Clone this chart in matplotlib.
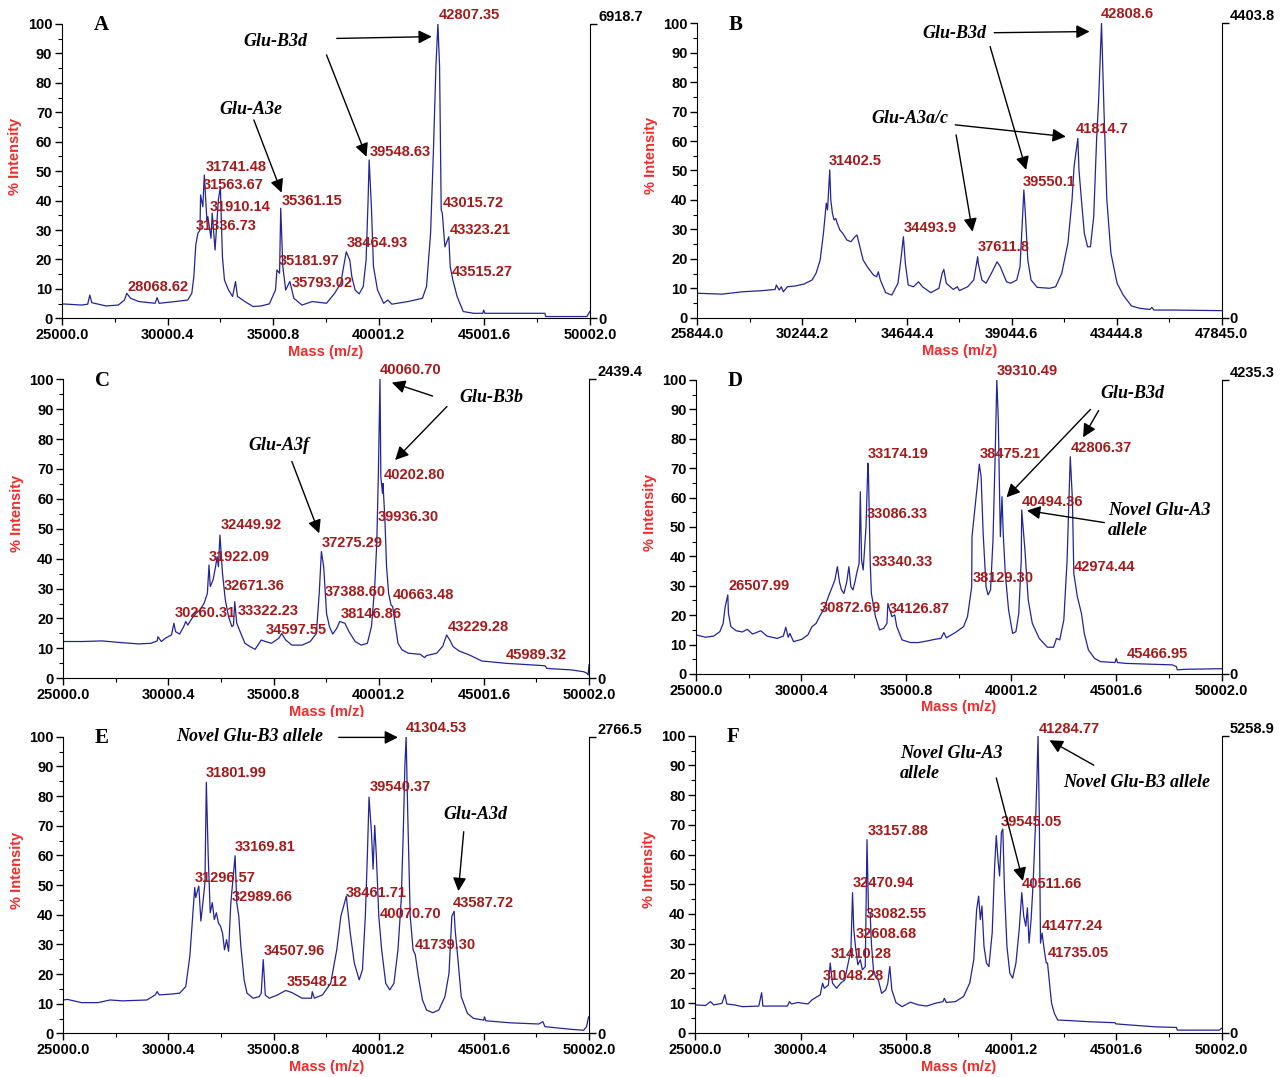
import matplotlib
matplotlib.use("Agg")
import matplotlib.pyplot as plt
from matplotlib.ticker import FixedLocator
from matplotlib.patches import Rectangle

plt.rcParams['font.family'] = ['Liberation Sans', 'DejaVu Sans']

# ---------------- panel A ----------------
a_mass = [25000, 25928, 26218, 26315, 26412, 27088, 27668, 27958, 28068, 28249, 28635, 29409, 29505, 29602,
          30375, 30955, 31149, 31246, 31337, 31439, 31536, 31564, 31671, 31741, 31864, 31910, 32058, 32116,
          32251, 32406, 32502, 32599, 32696, 32889, 33082, 33218, 33315, 33663, 34049, 34436, 34823, 35113,
          35182, 35306, 35361, 35461, 35596, 35793, 35983, 36370, 36853, 37530, 37916, 38206, 38342, 38465,
          38632, 38729, 38883, 39077, 39270, 39405, 39500, 39549, 39657, 39753, 39947, 40237, 40430, 40623,
          41397, 42074, 42267, 42460, 42596, 42712, 42807, 42886, 42963, 43016, 43137, 43323, 43389, 43515,
          43717, 44007, 44491, 44936, 44974, 45032, 47874, 47913, 49866, 50002]
a_int = [4.9, 4.5, 4.8, 7.9, 5.3, 4.2, 4.5, 6.2, 8.5, 6.8, 5.7, 5.1, 7.0, 5.1,
         5.7, 6.2, 8.5, 14.2, 24.9, 28.9, 30.0, 41.9, 37.9, 48.7, 33.4, 34.5, 27.2, 35.7,
         23.2, 40.2, 44.7, 21.0, 13.0, 9.6, 7.4, 12.5, 7.4, 5.7, 4.0, 4.2, 4.9, 9.6,
         16.4, 15.3, 37.4, 17.6, 9.6, 12.5, 6.8, 4.5, 5.7, 5.1, 8.5, 11.9, 17.6, 22.6,
         19.8, 14.2, 9.6, 8.3, 10.8, 19.8, 40.2, 53.8, 37.9, 17.6, 9.6, 5.1, 6.2, 4.8,
         5.7, 6.8, 10.8, 28.9, 57.2, 85.5, 100.0, 85.5, 36.8, 35.7, 24.3, 27.7, 17.6, 13.0,
         7.4, 2.3, 1.7, 1.7, 2.8, 1.7, 1.7, 0.6, 0.6, 2.3]
a_ticks = [25000.0, 30000.4, 35000.8, 40001.2, 45001.6, 50002.0]
a_full = '6918.7'
a_peaks = ['42807.35', '39548.63', '31741.48', '31563.67', '31910.14', '31336.73', '35361.15',
           '35181.97', '35793.02', '38464.93', '43015.72', '43323.21', '43515.27', '28068.62']
a_peak_xy = [(42847, 103.1), (39599, 56.6), (31787, 51.5), (31671, 45.3), (31980, 37.9), (31342, 31.4),
             (35403, 40.0), (35248, 19.6), (35886, 12.1), (38497, 25.7), (43040, 39.1), (43369, 30.0),
             (43466, 15.9), (28094, 10.8)]
a_notes = ['Glu-B3d', 'Glu-A3e']
a_note_xy = [(33605, 94.2), (32464, 70.8)]
a_arrows = [((38013, 95.1), (42518, 95.7)), ((37530, 89.5), (39425, 54.9)), ((34088, 67.4), (35403, 42.7))]

# ---------------- panel B ----------------
b_mass = [25844, 26875, 27735, 28594, 29110, 29161, 29282, 29367, 29453, 29625, 29969, 30313, 30657, 30829,
          31000, 31138, 31258, 31310, 31402, 31447, 31516, 31585, 31654, 31722, 31825, 31946, 32118, 32290,
          32461, 32547, 32667, 32805, 32977, 33235, 33372, 33441, 33527, 33750, 34008, 34266, 34402, 34494,
          34575, 34696, 34919, 35126, 35297, 35641, 35985, 36122, 36191, 36294, 36587, 36758, 36844, 37188,
          37446, 37612, 37635, 37790, 37962, 38219, 38426, 38563, 38821, 38993, 39251, 39388, 39474, 39550,
          39612, 39715, 39852, 40110, 40626, 40884, 41141, 41399, 41571, 41657, 41815, 41863, 41966, 42087,
          42224, 42344, 42482, 42602, 42688, 42809, 42912, 43032, 43204, 43462, 43720, 44063, 44407, 44837,
          44923, 45009, 45782, 47845]
b_int = [8.3, 8.0, 8.8, 9.2, 9.6, 11.1, 9.4, 10.5, 8.8, 10.5, 10.8, 11.4, 12.8, 15.1,
         19.6, 28.7, 38.9, 36.6, 50.2, 40.0, 35.4, 33.2, 33.7, 32.0, 29.8, 28.7, 26.4, 25.8,
         27.5, 28.1, 24.1, 19.6, 17.3, 14.5, 13.9, 15.6, 12.8, 8.5, 7.7, 11.7, 20.7, 27.5,
         18.5, 11.1, 10.5, 12.2, 10.5, 8.5, 10.0, 15.1, 16.4, 11.7, 9.6, 10.5, 9.2, 10.5,
         12.8, 20.7, 18.5, 12.8, 11.7, 15.6, 19.0, 17.3, 12.2, 11.7, 12.8, 17.3, 30.9, 43.4,
         35.4, 19.6, 12.8, 10.3, 10.0, 10.5, 15.1, 25.3, 40.0, 51.3, 60.9, 50.2, 40.0, 28.7,
         24.1, 24.1, 34.3, 60.4, 74.0, 100.0, 70.6, 40.0, 21.9, 11.7, 7.7, 4.0, 3.2, 2.8,
         3.5, 2.6, 2.6, 2.4]
b_ticks = [25844.0, 30244.2, 34644.4, 39044.6, 43444.8, 47845.0]
b_full = '4403.8'
b_peaks = ['42808.6', '41814.7', '39550.1', '37611.8', '34493.9', '31402.5']
b_peak_xy = [(42774, 103.1), (41743, 64.0), (39508, 46.2), (37618, 23.9), (34489, 30.4), (31378, 53.3)]
b_notes = ['Glu-B3d', 'Glu-A3a/c']
b_note_xy = [(35297, 96.6), (33149, 67.7)]
b_arrows = [((38305, 96.8), (42310, 97.2)), ((38133, 92.1), (39646, 50.2)),
            ((36672, 65.5), (41313, 61.5)), ((36706, 62.1), (37394, 29.2))]

# ---------------- panel C ----------------
c_mass = [25000, 25874, 26844, 27815, 28591, 29173, 29465, 29500, 29659, 29853, 30144, 30260, 30338, 30532,
          30726, 30823, 30920, 31114, 31309, 31503, 31697, 31852, 31930, 31988, 32124, 32240, 32318, 32376,
          32450, 32570, 32706, 32861, 33017, 33094, 33153, 33250, 33444, 33638, 33929, 34123, 34414, 34608,
          34900, 35249, 35385, 35579, 35870, 36355, 36744, 37035, 37171, 37275, 37384, 37520, 37656, 37811,
          38005, 38147, 38394, 38588, 38879, 39170, 39461, 39655, 39811, 39908, 39985, 40061, 40102, 40179,
          40203, 40296, 40374, 40471, 40587, 40663, 40781, 40917, 41111, 41402, 41985, 42179, 42276, 42761,
          43052, 43229, 43382, 43538, 43829, 44314, 44896, 46061, 47226, 47905, 48002, 49167, 49749, 49904,
          49962, 50002]
c_int = [12.3, 12.3, 12.5, 11.9, 11.5, 11.7, 12.5, 13.9, 12.3, 13.4, 14.5, 18.4, 15.6, 14.8,
         17.3, 19.0, 17.8, 20.0, 21.7, 22.9, 25.1, 28.4, 37.9, 30.7, 32.9, 37.3, 40.7, 37.3,
         47.9, 35.1, 26.2, 20.6, 17.3, 17.8, 25.6, 18.4, 15.0, 11.7, 10.4, 9.7, 12.8, 12.3,
         11.7, 13.4, 15.0, 12.8, 11.1, 11.1, 12.3, 15.0, 28.4, 42.4, 37.3, 21.7, 17.3, 14.8,
         16.7, 19.0, 18.4, 15.6, 12.3, 11.1, 11.7, 17.3, 30.7, 45.2, 68.6, 100.0, 67.4, 61.9,
         65.2, 53.0, 37.3, 28.4, 24.5, 24.0, 18.4, 11.7, 9.5, 8.4, 8.0, 6.9, 7.6, 8.4,
         10.8, 14.5, 12.8, 10.6, 9.1, 7.8, 5.8, 5.0, 4.5, 4.2, 3.3, 2.8, 2.2, 1.7,
         1.1, 4.5]
c_ticks = [25000.0, 30000.4, 35000.8, 40001.2, 45001.6, 50002.0]
c_full = '2439.4'
c_peaks = ['40060.70', '40202.80', '39936.30', '37275.29', '32449.92', '31922.09', '32671.36', '33322.23',
           '30260.31', '34597.55', '37388.60', '38146.86', '40663.48', '43229.28', '45989.32']
c_peak_xy = [(40043, 103.1), (40238, 68.0), (39946, 54.1), (37287, 45.2), (32473, 51.3), (31930, 40.7),
             (32628, 30.9), (33308, 22.6), (30280, 21.7), (34647, 16.2), (37423, 29.0), (38199, 21.4),
             (40665, 27.9), (43285, 17.3), (46022, 7.8)]
c_notes = ['Glu-B3b', 'Glu-A3f']
c_note_xy = [(43829, 94.0), (33793, 78.0)]
c_arrows = [((42567, 94.4), (40626, 98.9)), ((43246, 90.9), (40781, 73.0)), ((35870, 72.5), (37171, 48.5))]

# ---------------- panel D ----------------
d_mass = [25000, 25448, 25838, 26130, 26286, 26384, 26508, 26539, 26656, 26910, 27202, 27436, 27689, 28079,
          28371, 28858, 29151, 29268, 29385, 29463, 29638, 30028, 30320, 30515, 30710, 30873, 31099, 31294,
          31450, 31606, 31723, 31820, 31918, 32035, 32171, 32269, 32366, 32463, 32561, 32658, 32756, 32814,
          32873, 32951, 33086, 33174, 33204, 33282, 33340, 33535, 33730, 33925, 34081, 34127, 34315, 34451,
          34549, 34802, 35192, 35581, 35971, 36361, 36653, 36789, 36906, 37335, 37725, 37915, 38115, 38129,
          38407, 38475, 38563, 38660, 38797, 38894, 39011, 39128, 39226, 39310, 39381, 39440, 39479, 39557,
          39615, 39713, 39869, 40063, 40219, 40356, 40473, 40494, 40648, 40804, 40999, 41330, 41720, 42012,
          42149, 42304, 42499, 42655, 42752, 42806, 42908, 42974, 43142, 43337, 43473, 43668, 43961, 44253,
          44935, 44993, 45052, 45467, 47663, 47858, 47897, 48248, 50002]
d_int = [13.3, 12.5, 12.9, 14.4, 17.2, 22.9, 26.9, 20.6, 16.1, 14.7, 14.3, 15.2, 13.6, 14.7,
         12.9, 12.1, 12.9, 15.9, 12.5, 13.8, 11.0, 11.8, 13.3, 16.1, 17.2, 19.5, 22.3, 26.3,
         29.1, 32.0, 36.5, 31.4, 28.6, 27.4, 31.4, 36.5, 29.7, 28.6, 31.4, 34.8, 37.6, 62.0,
         38.8, 35.4, 50.1, 71.7, 67.7, 38.8, 27.4, 19.5, 15.0, 15.5, 17.2, 24.0, 19.5, 20.1,
         16.1, 11.6, 10.7, 10.7, 11.2, 11.8, 12.1, 14.1, 12.3, 14.1, 16.1, 19.5, 29.7, 46.7,
         66.0, 71.4, 67.1, 47.8, 29.7, 26.9, 28.6, 45.6, 72.8, 100.0, 86.4, 61.5, 46.7, 60.3,
         47.8, 34.2, 21.8, 13.8, 14.4, 20.6, 38.8, 55.8, 42.2, 25.2, 17.2, 12.1, 9.1, 9.1,
         12.1, 11.6, 18.4, 38.8, 61.5, 73.9, 59.2, 34.2, 26.3, 20.6, 13.8, 8.2, 5.3, 4.2,
         3.9, 5.3, 3.9, 3.6, 3.1, 2.5, 1.4, 1.6, 1.8]
d_ticks = [25000.0, 30000.4, 35000.8, 40001.2, 45001.6, 50002.0]
d_full = '4235.3'
d_peaks = ['39310.49', '33174.19', '38475.21', '42806.37', '40494.36', '33086.33', '33340.33', '42974.44',
           '38129.30', '26507.99', '30872.69', '34126.87', '45466.95']
d_peak_xy = [(39323, 103.2), (33184, 74.8), (38504, 74.8), (42830, 76.8), (40512, 58.6), (33107, 54.4),
             (33341, 38.2), (42986, 36.3), (38154, 32.5), (26559, 29.9), (30905, 22.3), (34159, 22.0),
             (45481, 6.8)]
d_notes = ['Glu-B3d', 'Novel Glu-A3\nallele']
d_note_xy = [(44253, 95.5), (44604, 52.1)]
d_arrows = [((43766, 90.0), (39771, 60.1)), ((44156, 89.6), (43415, 80.5)), ((44429, 51.5), (40746, 55.6))]

# ---------------- panel E ----------------
e_mass = [25000, 25194, 25873, 26650, 27232, 27815, 28979, 29367, 29465, 29562, 30144, 30532, 30823, 31017,
          31153, 31250, 31297, 31444, 31542, 31639, 31736, 31802, 31891, 31988, 32085, 32182, 32279, 32376,
          32473, 32570, 32667, 32764, 32861, 32959, 32990, 33170, 33250, 33347, 33444, 33599, 33735, 34026,
          34317, 34414, 34508, 34608, 34803, 35191, 35579, 35870, 36355, 36802, 36841, 36938, 37326, 37715,
          38005, 38199, 38462, 38491, 38646, 38840, 39073, 39228, 39364, 39461, 39540, 39655, 39733, 39811,
          39888, 40005, 40141, 40335, 40529, 40723, 40917, 41072, 41169, 41247, 41305, 41383, 41499, 41635,
          41739, 41888, 42082, 42276, 42567, 42858, 43149, 43343, 43479, 43588, 43635, 43770, 43926, 44217,
          44508, 44993, 45032, 45090, 46255, 47614, 47808, 47905, 49167, 49749, 49885, 49982]
e_int = [11.3, 11.5, 10.4, 10.4, 11.3, 11.0, 11.3, 13.0, 14.1, 13.0, 13.3, 13.6, 15.8, 26.0,
         39.5, 49.2, 45.8, 49.7, 37.9, 44.1, 50.8, 84.7, 59.9, 40.7, 44.1, 38.4, 40.7, 37.3,
         36.2, 33.9, 28.2, 31.6, 27.7, 42.9, 45.8, 59.9, 44.1, 39.5, 29.4, 18.1, 13.6, 11.9,
         12.4, 13.6, 24.9, 12.9, 11.9, 13.0, 14.5, 13.8, 11.9, 11.9, 14.1, 11.9, 13.0, 16.9,
         28.2, 39.5, 46.3, 44.1, 33.9, 23.7, 18.1, 21.5, 39.5, 59.9, 79.7, 67.8, 55.4, 70.1,
         59.9, 39.5, 28.2, 16.9, 14.7, 16.9, 28.2, 45.2, 67.8, 90.4, 100.0, 73.4, 39.5, 28.2,
         26.6, 19.2, 11.3, 7.9, 7.0, 7.9, 12.4, 20.3, 39.5, 41.2, 35.0, 24.9, 12.4, 6.8,
         5.1, 4.5, 5.6, 4.3, 3.6, 3.2, 4.0, 2.3, 1.4, 1.1, 2.3, 5.6]
e_ticks = [25000.0, 30000.4, 35000.8, 40001.2, 45001.6, 50002.0]
e_full = '2766.5'
e_peaks = ['41304.53', '31801.99', '39540.37', '33169.81', '31296.57', '32989.66', '38461.71', '40070.70',
           '43587.72', '41739.30', '34507.96', '35548.12']
e_peak_xy = [(41266, 103.0), (31794, 87.9), (39558, 83.1), (33153, 62.7), (31270, 52.5), (32997, 46.0),
             (38452, 47.5), (40044, 40.3), (43537, 44.1), (41732, 29.9), (34511, 27.9), (35618, 17.3)]
e_notes = ['Novel Glu-B3 allele', 'Glu-A3d']
e_note_xy = [(30377, 100.0), (43072, 73.7)]
e_arrows = [((38102, 99.8), (40917, 99.8)), ((44043, 68.0), (43790, 48.0))]

# ---------------- panel F ----------------
f_mass = [25000, 25486, 25720, 25876, 26265, 26401, 26498, 26848, 27238, 28016, 28152, 28210, 29378, 29475,
          29572, 29864, 30156, 30351, 30545, 30934, 31048, 31129, 31324, 31410, 31518, 31713, 31907, 32102,
          32199, 32296, 32394, 32471, 32530, 32609, 32724, 32841, 32938, 33075, 33158, 33230, 33308, 33366,
          33464, 33561, 33697, 33853, 34048, 34145, 34242, 34339, 34534, 34826, 35215, 35604, 35993, 36382,
          36771, 36830, 36927, 37355, 37744, 38036, 38231, 38367, 38464, 38542, 38620, 38717, 38834, 38951,
          39106, 39223, 39301, 39379, 39457, 39545, 39612, 39690, 39807, 39943, 40079, 40235, 40390, 40512,
          40604, 40702, 40780, 40857, 40955, 41052, 41149, 41227, 41285, 41344, 41402, 41477, 41577, 41675,
          41735, 41830, 41928, 42064, 42219, 42803, 43776, 44943, 44982, 45722, 46889, 47862, 47901, 49224,
          49905, 50002]
f_int = [9.4, 9.2, 10.5, 9.4, 9.9, 12.8, 9.7, 9.4, 8.8, 9.0, 13.5, 9.0, 9.0, 10.5,
         9.7, 10.2, 9.9, 9.7, 11.1, 12.8, 16.7, 15.0, 16.1, 23.5, 16.7, 15.0, 16.7, 17.8,
         21.2, 24.6, 28.0, 47.2, 34.8, 29.1, 22.9, 24.6, 21.2, 22.3, 65.0, 40.4, 40.4, 30.2,
         21.2, 19.0, 17.8, 13.3, 14.4, 16.7, 22.3, 14.4, 10.2, 8.8, 10.3, 9.4, 9.0, 9.9,
         10.5, 11.6, 10.2, 10.5, 12.2, 16.7, 24.6, 41.5, 46.0, 38.1, 42.7, 29.1, 23.5, 22.3,
         33.6, 56.2, 66.4, 58.5, 52.8, 67.5, 68.6, 48.3, 29.1, 20.1, 18.4, 23.5, 34.8, 47.2,
         39.3, 35.9, 42.1, 30.2, 38.1, 50.6, 67.5, 84.4, 100.0, 73.1, 30.2, 33.6, 28.0, 23.5,
         23.5, 16.7, 9.9, 6.5, 4.3, 4.1, 3.7, 3.4, 3.0, 2.6, 2.0, 1.8, 0.9, 0.9,
         0.9, 1.5]
f_ticks = [25000.0, 30000.4, 35000.8, 40001.2, 45001.6, 50002.0]
f_full = '5258.9'
f_peaks = ['41284.77', '33157.88', '39545.05', '32470.94', '40511.66', '33082.55', '32608.68', '41477.24',
           '31410.28', '41735.05', '31048.28']
f_peak_xy = [(41305, 102.3), (33172, 68.1), (39534, 70.9), (32491, 50.6), (40527, 50.0), (33075, 40.1),
             (32627, 33.1), (41480, 36.1), (31421, 26.6), (41733, 26.9), (31032, 19.2)]
f_notes = ['Novel Glu-A3\nallele', 'Novel Glu-B3 allele']
f_note_xy = [(34729, 90.7), (42472, 84.4)]
f_arrows = [((39301, 85.8), (40566, 51.1)), ((43932, 90.1), (41830, 98.5))]

LINE = '#23239a'
PEAK = '#a41a1a'
AXLAB = '#f52a2a'
SERIF = ['Liberation Serif', 'DejaVu Serif']

fig = plt.figure(figsize=(12.82, 10.77), dpi=100)


def draw(rect, letter, mass, inten, ticks, full, peaks, peak_xy, notes, note_xy, arrows):
    ax = fig.add_axes(rect)
    ax.plot(mass, inten, color=LINE, lw=0.9)
    ax.set_xlim(ticks[0], ticks[-1])
    ax.set_ylim(0, 100)
    step = ticks[1] - ticks[0]
    ax.xaxis.set_major_locator(FixedLocator(ticks))
    ax.xaxis.set_minor_locator(FixedLocator([t + step / 2 for t in ticks[:-1]]))
    ax.set_xticklabels([f'{t:.1f}' for t in ticks])
    ax.set_yticks(range(0, 101, 10))
    ax.yaxis.set_minor_locator(FixedLocator(range(5, 100, 10)))
    ax.tick_params(which='major', length=5, width=1, labelsize=10.5, pad=2)
    ax.tick_params(which='minor', length=3, width=0.8)
    for lbl in ax.get_xticklabels() + ax.get_yticklabels():
        lbl.set_fontweight('bold')
    ax.spines['top'].set_visible(False)
    ax.spines['right'].set_visible(False)

    ax2 = ax.twinx()
    ax2.set_ylim(0, 100)
    ax2.set_yticks([0, 100])
    ax2.set_yticklabels(['0', full], fontweight='bold', fontsize=10.5)
    ax2.get_yticklabels()[1].set_va('bottom')
    ax2.tick_params(length=5, width=1, pad=1)
    for s in ['top', 'left', 'bottom']:
        ax2.spines[s].set_visible(False)

    ax.set_xlabel('Mass (m/z)', color=AXLAB, fontsize=10.5, fontweight='bold')
    ax.xaxis.set_label_coords(0.5, -0.09)
    ax.set_ylabel('% Intensity', color=AXLAB, fontsize=10.5, fontweight='bold')
    ax.yaxis.set_label_coords(-0.075, 0.55)

    ax.text(0.06, 0.995, letter, transform=ax.transAxes, fontsize=15, fontweight='bold',
            family=SERIF, ha='left', va='center')
    for txt, (x, y) in zip(peaks, peak_xy):
        ax.text(x, y, txt, color=PEAK, fontsize=10.5, fontweight='bold', ha='left', va='center')
    for txt, (x, y) in zip(notes, note_xy):
        ax.text(x, y, txt, fontsize=13, fontweight='bold', style='italic', family=SERIF,
                ha='left', va='center', linespacing=1.25)
    for tail, head in arrows:
        ax.annotate('', xy=head, xytext=tail,
                    arrowprops=dict(arrowstyle='-|>', color='black', lw=1.0,
                                    mutation_scale=20, shrinkA=0, shrinkB=0))
    return ax


draw([0.04836, 0.70446, 0.4117, 0.27326], 'A', a_mass, a_int, a_ticks, a_full,
     a_peaks, a_peak_xy, a_notes, a_note_xy, a_arrows)
draw([0.54392, 0.70502, 0.40889, 0.27335], 'B', b_mass, b_int, b_ticks, b_full,
     b_peaks, b_peak_xy, b_notes, b_note_xy, b_arrows)
draw([0.04938, 0.37020, 0.41006, 0.27762], 'C', c_mass, c_int, c_ticks, c_full,
     c_peaks, c_peak_xy, c_notes, c_note_xy, c_arrows)
draw([0.54298, 0.37419, 0.40983, 0.27298], 'D', d_mass, d_int, d_ticks, d_full,
     d_peaks, d_peak_xy, d_notes, d_note_xy, d_arrows)
draw([0.04938, 0.04039, 0.41006, 0.27549], 'E', e_mass, e_int, e_ticks, e_full,
     e_peaks, e_peak_xy, e_notes, e_note_xy, e_arrows)
draw([0.54236, 0.04104, 0.41045, 0.27577], 'F', f_mass, f_int, f_ticks, f_full,
     f_peaks, f_peak_xy, f_notes, f_note_xy, f_arrows)

# the C panel's axis title is cut off by panel E in the original figure
fig.add_artist(Rectangle((0, 1 - 722 / 1077), 0.5, 5 / 1077, transform=fig.transFigure,
                         facecolor='white', edgecolor='none', zorder=10))

fig.savefig('out.png', dpi=100, facecolor='white')
